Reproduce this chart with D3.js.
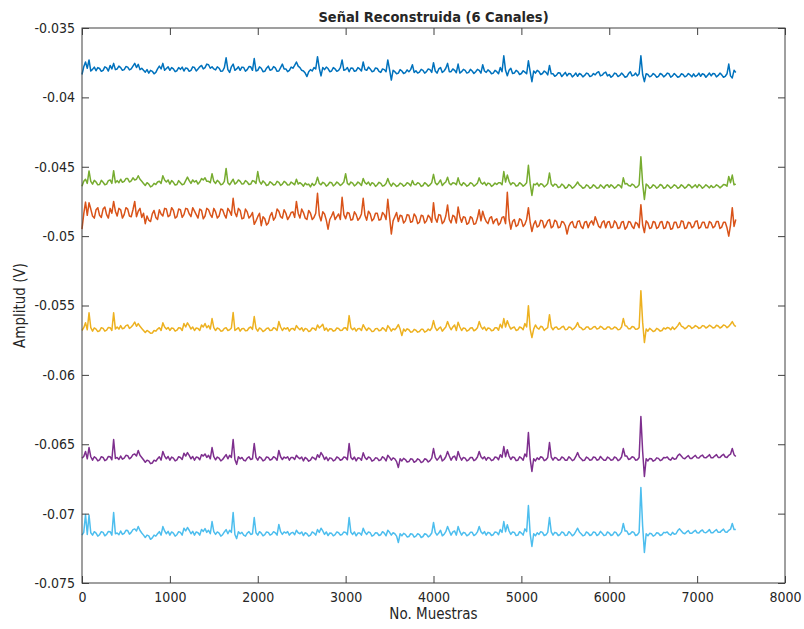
<!DOCTYPE html>
<html>
<head>
<meta charset="utf-8">
<script src="https://cdn.jsdelivr.net/npm/d3@7"></script>
<style>
  body { margin: 0; background: #fff; }
  svg text { font-family: "Liberation Sans Narrow", "DejaVu Sans Condensed", "Liberation Sans", sans-serif; fill: #262626; }
</style>
</head>
<body>
<svg id="chart"></svg>
<script>
// one stored value every STEP samples, amplitudes in mV
const STEP = 20;

const ch1 = [
  -38.35, -37.80, -37.45, -37.90, -37.30, -38.10, -37.98, -37.82, -38.08, -37.85,
  -37.92, -38.12, -38.05, -37.80, -37.88, -38.10, -37.70, -37.95, -37.55, -38.00,
  -37.95, -37.75, -37.85, -38.05, -38.00, -37.78, -37.82, -38.02, -37.95, -37.75,
  -37.55, -37.85, -37.62, -38.00, -37.90, -38.05, -38.18, -38.00, -38.25, -38.05,
  -38.12, -38.30, -38.20, -37.95, -37.75, -37.95, -37.55, -38.05, -37.92, -37.80,
  -38.05, -37.85, -37.95, -38.15, -38.08, -37.85, -37.98, -37.82, -38.10, -37.88,
  -37.92, -38.12, -38.05, -37.80, -37.85, -38.10, -37.95, -37.80, -37.70, -37.95,
  -37.85, -37.60, -37.65, -37.90, -37.80, -37.95, -38.02, -37.80, -37.90, -38.12,
  -38.10, -37.85, -37.15, -38.00, -38.20, -37.80, -37.60, -38.05, -37.95, -37.80,
  -38.05, -37.82, -37.85, -38.12, -38.00, -37.78, -37.80, -38.05, -37.20, -38.10,
  -38.05, -37.80, -37.90, -38.15, -38.12, -37.90, -37.75, -38.05, -38.00, -37.78,
  -37.88, -38.12, -38.10, -37.85, -37.60, -37.95, -37.95, -38.15, -38.05, -37.82,
  -37.90, -37.70, -37.45, -37.75, -37.85, -38.05, -38.10, -38.25, -38.50, -38.15,
  -38.00, -38.10, -37.85, -37.95, -37.07, -37.90, -38.45, -37.85, -38.00, -37.82,
  -37.92, -38.15, -38.10, -37.85, -37.95, -38.12, -38.05, -37.85, -37.30, -38.05,
  -38.00, -37.85, -38.15, -37.88, -37.90, -38.12, -38.08, -37.85, -37.95, -38.10,
  -37.45, -38.00, -38.05, -37.82, -37.95, -38.15, -38.10, -37.88, -37.92, -38.12,
  -38.20, -37.95, -38.00, -38.15, -37.30, -38.00, -38.75, -38.05, -38.15, -38.30,
  -38.25, -38.00, -38.10, -38.28, -38.22, -38.02, -38.15, -38.00, -37.65, -38.20,
  -38.08, -38.25, -38.18, -37.98, -38.05, -38.25, -38.15, -37.95, -38.00, -38.20,
  -37.50, -38.10, -38.25, -37.95, -37.85, -38.20, -38.10, -37.90, -37.55, -38.15,
  -38.15, -37.95, -38.05, -38.22, -37.60, -38.25, -38.15, -37.98, -38.05, -38.25,
  -38.20, -37.98, -38.10, -38.28, -38.15, -37.98, -38.05, -38.25, -37.65, -38.10,
  -38.20, -38.02, -38.12, -38.30, -38.25, -38.05, -38.15, -38.30, -37.85, -38.15,
  -37.00, -38.05, -38.44, -38.05, -37.90, -38.28, -38.25, -38.05, -38.15, -38.35,
  -38.28, -38.08, -38.18, -38.30, -37.36, -38.15, -38.87, -38.10, -38.25, -38.05,
  -38.15, -38.35, -38.28, -38.10, -38.20, -38.38, -37.70, -38.30, -38.30, -38.48,
  -38.40, -38.22, -38.25, -38.50, -38.35, -38.20, -38.45, -38.28, -38.30, -38.52,
  -38.40, -38.25, -38.48, -38.28, -38.35, -38.52, -38.42, -38.25, -38.30, -38.50,
  -38.45, -38.28, -38.38, -38.22, -38.15, -38.45, -38.40, -38.25, -38.18, -38.45,
  -38.35, -38.55, -38.45, -38.25, -38.30, -38.50, -38.42, -38.25, -38.38, -38.55,
  -38.50, -38.28, -38.15, -38.45, -38.40, -38.25, -38.45, -38.30, -37.00, -38.35,
  -38.87, -38.30, -38.35, -38.52, -38.45, -38.28, -38.38, -38.55, -38.48, -38.28,
  -38.35, -38.52, -38.42, -38.25, -38.30, -38.55, -38.45, -38.28, -38.40, -38.55,
  -38.50, -38.30, -38.35, -38.52, -38.45, -38.28, -38.38, -38.52, -38.30, -38.50,
  -38.42, -38.25, -38.48, -38.30, -38.35, -38.55, -38.40, -38.25, -38.45, -38.28,
  -38.30, -38.52, -38.42, -38.25, -38.38, -38.55, -38.48, -38.30, -37.60, -38.45,
  -38.60, -38.05, -38.20
];

const ch2 = [
  -49.50, -48.40, -47.55, -48.50, -47.60, -48.05, -48.55, -48.70, -48.10, -47.95,
  -48.50, -48.65, -48.05, -47.90, -48.45, -48.70, -48.00, -48.35, -47.50, -48.20,
  -48.55, -48.00, -48.10, -48.70, -48.45, -47.95, -48.05, -48.55, -48.60, -48.10,
  -47.50, -48.60, -48.20, -48.00, -48.65, -48.35, -49.10, -48.55, -48.85, -48.95,
  -48.40, -48.15, -48.65, -48.80, -48.10, -48.40, -48.55, -48.00, -48.05, -48.60,
  -48.50, -47.95, -48.15, -48.70, -48.60, -48.05, -48.10, -48.65, -48.45, -48.00,
  -48.05, -48.40, -48.60, -47.95, -48.20, -48.45, -48.70, -48.05, -48.15, -48.75,
  -48.55, -48.00, -48.10, -48.45, -48.65, -48.00, -48.25, -48.70, -48.55, -48.05,
  -48.10, -48.45, -48.70, -48.00, -48.20, -48.50, -47.27, -48.30, -48.60, -48.00,
  -48.15, -48.75, -48.70, -48.05, -48.25, -48.70, -48.55, -48.30, -49.15, -48.90,
  -48.60, -48.35, -49.25, -48.60, -48.75, -49.20, -49.05, -48.55, -48.30, -48.85,
  -48.65, -48.05, -48.20, -48.60, -48.70, -48.10, -48.35, -48.80, -48.60, -48.30,
  -48.25, -48.65, -47.50, -48.35, -48.70, -48.05, -48.30, -48.70, -48.80, -48.15,
  -48.35, -48.80, -48.65, -48.35, -46.91, -48.50, -48.90, -48.25, -48.40, -48.85,
  -49.50, -48.80, -48.55, -48.25, -48.80, -48.60, -48.40, -48.80, -47.20, -48.45,
  -48.75, -48.30, -48.35, -48.85, -48.80, -48.25, -48.45, -48.85, -48.70, -48.40,
  -47.27, -48.50, -48.85, -48.20, -48.40, -48.90, -48.75, -48.35, -48.35, -48.85,
  -48.80, -48.30, -48.45, -48.80, -47.35, -48.60, -49.85, -48.90, -48.60, -48.30,
  -48.95, -48.50, -48.55, -49.05, -48.90, -48.45, -48.50, -49.00, -48.95, -48.40,
  -48.60, -49.10, -49.00, -48.50, -48.55, -49.05, -48.90, -48.50, -48.65, -49.00,
  -47.59, -48.70, -49.00, -48.45, -48.50, -49.10, -48.95, -48.55, -47.75, -48.80,
  -49.05, -48.50, -48.60, -49.05, -47.90, -48.60, -49.00, -48.60, -48.65, -49.15,
  -49.05, -48.60, -48.70, -49.15, -49.10, -48.70, -48.10, -48.90, -48.20, -48.65,
  -48.95, -49.10, -48.70, -48.60, -49.10, -48.85, -48.75, -49.20, -49.05, -48.65,
  -48.60, -49.10, -46.84, -48.80, -49.50, -48.95, -48.80, -49.30, -49.20, -48.75,
  -48.85, -49.30, -49.15, -48.80, -47.95, -49.00, -49.67, -49.15, -48.90, -49.35,
  -49.25, -48.85, -48.90, -49.40, -49.20, -48.90, -48.80, -49.40, -49.30, -48.85,
  -48.95, -49.40, -49.35, -48.95, -49.00, -49.25, -49.85, -49.30, -49.05, -48.95,
  -49.35, -49.40, -48.95, -48.90, -49.30, -49.45, -49.00, -48.95, -49.40, -49.05,
  -48.90, -49.20, -48.60, -48.95, -49.30, -49.40, -49.00, -48.90, -49.40, -49.00,
  -48.95, -49.40, -49.35, -48.90, -49.05, -49.45, -49.40, -49.00, -48.95, -49.50,
  -49.35, -48.95, -49.00, -49.30, -49.45, -49.00, -49.10, -49.40, -47.73, -49.20,
  -49.74, -48.90, -49.05, -49.45, -49.40, -48.95, -49.00, -49.45, -49.35, -49.00,
  -48.95, -49.45, -49.40, -48.95, -49.05, -49.50, -49.45, -49.00, -49.00, -49.40,
  -49.35, -48.90, -48.95, -49.45, -49.40, -49.00, -49.05, -49.40, -49.30, -48.95,
  -48.90, -49.45, -49.35, -49.00, -49.00, -49.40, -49.40, -48.95, -49.05, -49.40,
  -49.30, -48.95, -48.95, -49.45, -49.35, -49.00, -49.00, -49.40, -50.00, -49.20,
  -47.95, -49.30, -48.80
];

const ch3 = [
  -56.80, -56.60, -56.24, -56.75, -55.52, -56.60, -56.85, -56.62, -56.70, -56.88,
  -56.82, -56.60, -56.65, -56.85, -56.78, -56.58, -56.60, -56.80, -55.52, -56.70,
  -56.55, -56.70, -56.45, -56.68, -56.62, -56.45, -56.40, -56.65, -56.55, -56.40,
  -56.20, -56.50, -56.30, -56.50, -56.65, -56.80, -56.95, -56.80, -56.88, -57.00,
  -56.98, -56.80, -56.85, -56.70, -56.60, -56.80, -56.25, -56.55, -56.70, -56.58,
  -56.80, -56.62, -56.65, -56.85, -56.78, -56.60, -56.62, -56.80, -56.30, -56.55,
  -56.25, -56.45, -56.70, -56.55, -56.80, -56.62, -56.65, -56.80, -56.40, -56.55,
  -56.30, -56.60, -56.45, -56.70, -55.94, -56.60, -56.80, -56.62, -56.68, -56.85,
  -56.82, -56.65, -56.60, -56.80, -56.75, -56.62, -55.51, -56.80, -56.70, -56.60,
  -56.85, -56.68, -56.65, -56.82, -56.80, -56.62, -56.55, -56.72, -55.80, -56.65,
  -56.85, -56.62, -56.70, -56.88, -56.80, -56.65, -56.62, -56.80, -56.78, -56.60,
  -56.65, -56.80, -56.16, -56.55, -56.80, -56.62, -56.70, -56.60, -56.85, -56.68,
  -56.65, -56.78, -56.45, -56.62, -56.75, -56.60, -56.85, -56.65, -56.70, -56.88,
  -56.82, -56.62, -56.65, -56.78, -56.40, -56.62, -56.50, -56.35, -56.78, -56.62,
  -56.85, -56.68, -56.70, -56.85, -56.80, -56.62, -56.65, -56.80, -56.78, -56.62,
  -56.60, -56.78, -55.73, -56.60, -56.75, -56.62, -56.85, -56.68, -56.65, -56.80,
  -56.38, -56.62, -56.80, -56.62, -56.70, -56.88, -56.85, -56.68, -56.65, -56.82,
  -56.78, -56.60, -56.70, -56.85, -56.45, -56.62, -56.85, -56.68, -56.75, -56.60,
  -56.38, -56.70, -57.17, -56.70, -56.85, -56.68, -56.75, -56.92, -56.90, -56.72,
  -56.78, -56.92, -56.88, -56.72, -56.72, -56.92, -56.85, -56.70, -56.80, -56.62,
  -56.09, -56.60, -56.80, -56.65, -56.55, -56.85, -56.70, -56.55, -56.16, -56.50,
  -56.75, -56.55, -56.40, -56.80, -56.20, -56.55, -56.80, -56.62, -56.65, -56.85,
  -56.78, -56.62, -56.60, -56.82, -56.75, -56.60, -56.16, -56.52, -56.70, -56.55,
  -56.80, -56.62, -56.65, -56.82, -56.78, -56.60, -56.60, -56.78, -56.35, -56.62,
  -55.94, -56.55, -56.10, -56.45, -56.70, -56.60, -56.55, -56.80, -56.75, -56.55,
  -56.60, -56.75, -56.30, -56.55, -55.01, -56.70, -57.31, -56.70, -56.40, -56.62,
  -56.70, -56.50, -56.55, -56.80, -56.68, -56.60, -55.66, -56.55, -56.75, -56.58,
  -56.55, -56.72, -56.68, -56.55, -56.50, -56.75, -56.72, -56.55, -56.58, -56.75,
  -56.65, -56.50, -56.23, -56.55, -56.60, -56.75, -56.70, -56.55, -56.55, -56.72,
  -56.68, -56.55, -56.52, -56.70, -56.65, -56.50, -56.58, -56.72, -56.70, -56.55,
  -56.55, -56.70, -56.68, -56.55, -56.60, -56.75, -56.72, -56.55, -55.94, -56.45,
  -56.50, -56.68, -56.68, -56.52, -56.55, -56.72, -56.70, -56.60, -53.93, -56.20,
  -57.67, -56.70, -56.85, -56.65, -56.75, -56.88, -56.82, -56.65, -56.72, -56.85,
  -56.80, -56.62, -56.70, -56.58, -56.62, -56.75, -56.55, -56.72, -56.60, -56.45,
  -56.23, -56.48, -56.55, -56.68, -56.60, -56.45, -56.50, -56.65, -56.58, -56.45,
  -56.52, -56.65, -56.60, -56.45, -56.48, -56.62, -56.55, -56.42, -56.50, -56.62,
  -56.58, -56.42, -56.48, -56.62, -56.55, -56.40, -56.45, -56.60, -56.50, -56.35,
  -56.16, -56.40, -56.52
];

const ch4 = [
  -66.00, -65.88, -65.52, -66.05, -65.24, -65.90, -66.15, -65.90, -66.00, -66.20,
  -66.12, -65.90, -65.95, -66.18, -66.10, -65.88, -65.90, -66.12, -64.66, -66.02,
  -65.95, -66.10, -65.85, -66.08, -66.00, -65.80, -65.82, -66.05, -65.95, -65.75,
  -65.70, -65.85, -65.45, -65.80, -65.95, -66.12, -66.30, -66.15, -66.20, -66.40,
  -66.35, -66.15, -66.22, -66.05, -65.90, -66.15, -65.52, -65.85, -66.05, -65.88,
  -66.15, -65.92, -66.00, -66.20, -66.12, -65.90, -65.95, -66.10, -65.65, -65.85,
  -65.60, -65.80, -66.05, -65.88, -66.15, -65.92, -65.95, -66.12, -65.75, -65.85,
  -65.70, -65.95, -65.80, -66.05, -65.24, -65.90, -66.12, -65.92, -66.00, -66.20,
  -66.10, -65.92, -65.75, -66.05, -65.80, -65.95, -64.66, -66.10, -66.45, -65.90,
  -66.05, -65.95, -66.15, -66.20, -66.00, -65.90, -66.10, -66.05, -64.95, -65.95,
  -66.15, -65.90, -66.00, -66.20, -66.12, -65.92, -65.95, -66.15, -66.08, -65.90,
  -65.98, -66.15, -65.45, -65.90, -66.10, -65.92, -66.00, -65.90, -66.15, -65.95,
  -65.95, -66.10, -65.80, -65.95, -66.05, -65.92, -66.20, -65.95, -66.05, -66.22,
  -66.15, -65.92, -66.00, -66.12, -65.75, -65.95, -65.60, -65.80, -66.10, -65.92,
  -66.18, -65.98, -66.02, -66.20, -66.12, -65.92, -65.98, -66.15, -66.10, -65.92,
  -65.95, -66.12, -64.95, -65.95, -66.10, -65.92, -66.20, -65.98, -66.00, -66.15,
  -65.62, -65.95, -66.10, -65.92, -65.98, -66.22, -66.15, -65.98, -66.00, -66.18,
  -66.12, -65.90, -66.00, -66.20, -65.80, -65.95, -66.15, -65.98, -66.05, -66.25,
  -66.67, -66.05, -66.20, -66.02, -66.10, -66.28, -66.25, -66.05, -66.08, -66.30,
  -66.22, -66.05, -66.12, -66.32, -66.25, -66.05, -66.10, -66.28, -66.18, -66.00,
  -65.31, -65.95, -66.15, -66.00, -65.80, -66.20, -66.10, -65.90, -65.52, -65.85,
  -66.15, -65.92, -65.85, -66.15, -65.52, -65.90, -66.15, -65.95, -66.00, -66.20,
  -66.12, -65.95, -65.95, -66.18, -66.10, -65.92, -65.52, -65.90, -66.05, -65.90,
  -66.15, -65.95, -66.00, -66.18, -66.12, -65.92, -65.95, -66.12, -65.75, -65.95,
  -65.17, -65.90, -65.40, -65.85, -66.10, -65.92, -65.95, -66.18, -66.15, -65.90,
  -66.00, -66.15, -65.70, -65.90, -64.16, -66.05, -66.96, -66.05, -66.20, -65.98,
  -66.10, -65.90, -65.95, -66.18, -66.12, -65.95, -64.88, -65.92, -66.15, -65.95,
  -66.00, -66.15, -66.12, -65.92, -65.98, -66.15, -66.15, -65.90, -66.02, -66.18,
  -66.10, -65.88, -65.60, -65.92, -66.05, -66.18, -66.15, -65.92, -66.00, -66.15,
  -66.12, -65.92, -65.95, -66.15, -66.10, -65.88, -66.02, -66.15, -66.15, -65.92,
  -66.00, -66.15, -66.12, -65.92, -65.98, -66.18, -66.10, -65.92, -65.31, -65.85,
  -65.85, -66.10, -66.05, -65.90, -65.95, -66.15, -66.12, -65.95, -63.00, -65.50,
  -67.32, -66.05, -66.20, -66.02, -66.05, -66.22, -66.15, -65.98, -66.02, -66.18,
  -66.12, -65.95, -65.98, -65.92, -66.08, -66.15, -65.95, -66.08, -66.05, -65.82,
  -65.70, -65.85, -66.00, -66.05, -65.92, -65.82, -66.02, -66.02, -65.90, -65.80,
  -65.98, -66.00, -65.85, -65.78, -65.95, -65.98, -65.88, -65.75, -65.98, -65.98,
  -65.85, -65.75, -65.95, -65.95, -65.82, -65.72, -65.92, -65.95, -65.80, -65.72,
  -65.31, -65.75, -65.88
];

const ch5 = [
  -46.40, -46.05, -45.90, -46.20, -45.30, -46.05, -46.25, -45.98, -46.10, -46.30,
  -46.28, -45.98, -46.12, -46.30, -46.25, -46.00, -45.95, -46.20, -45.28, -46.15,
  -46.00, -46.15, -45.90, -46.12, -46.05, -45.85, -45.85, -46.10, -46.02, -45.80,
  -45.95, -45.90, -45.65, -45.90, -46.05, -46.20, -46.35, -46.15, -46.25, -46.45,
  -46.38, -46.20, -46.28, -46.10, -46.05, -46.20, -45.65, -45.95, -46.10, -45.95,
  -46.25, -46.00, -46.12, -46.32, -46.28, -46.00, -46.15, -46.30, -46.25, -46.00,
  -45.75, -46.00, -46.20, -45.95, -46.10, -46.00, -46.25, -46.10, -45.85, -45.95,
  -45.80, -46.05, -46.05, -46.15, -45.50, -46.05, -46.20, -45.98, -46.10, -46.30,
  -46.25, -46.05, -45.12, -46.15, -46.30, -46.10, -45.90, -46.25, -46.15, -45.95,
  -46.05, -46.25, -46.22, -46.00, -46.10, -46.28, -46.25, -46.00, -46.05, -46.20,
  -45.35, -46.05, -46.25, -46.02, -46.15, -46.35, -46.30, -46.08, -46.18, -46.32,
  -46.28, -46.05, -46.12, -46.35, -46.25, -46.05, -46.15, -46.32, -46.30, -46.10,
  -46.20, -46.30, -45.90, -46.25, -46.15, -46.25, -46.40, -46.18, -46.30, -46.25,
  -46.45, -46.20, -46.35, -46.20, -45.75, -46.20, -46.30, -46.12, -46.20, -46.40,
  -46.30, -46.12, -46.15, -46.38, -46.28, -46.10, -46.20, -46.35, -46.25, -46.10,
  -45.50, -46.20, -46.30, -46.10, -46.18, -46.38, -46.28, -46.10, -46.20, -46.35,
  -45.85, -46.15, -46.25, -46.10, -46.35, -46.15, -46.22, -46.42, -46.30, -46.12,
  -46.20, -46.40, -46.35, -46.20, -45.85, -46.20, -46.40, -46.18, -46.28, -46.42,
  -46.35, -46.18, -46.25, -46.40, -46.32, -46.15, -46.22, -46.38, -46.00, -46.28,
  -46.30, -46.15, -46.22, -46.42, -46.35, -46.15, -46.25, -46.40, -46.30, -46.15,
  -45.55, -46.15, -46.30, -46.15, -45.95, -46.35, -46.20, -46.10, -45.75, -46.20,
  -46.30, -46.15, -46.18, -46.30, -45.80, -46.22, -46.35, -46.15, -46.25, -46.40,
  -46.32, -46.15, -46.22, -46.40, -46.30, -46.18, -45.80, -46.15, -46.25, -46.12,
  -46.35, -46.18, -46.22, -46.42, -46.32, -46.18, -46.28, -46.15, -46.15, -46.30,
  -45.35, -46.10, -45.60, -46.05, -46.30, -46.15, -46.20, -46.40, -46.35, -46.15,
  -46.25, -46.40, -46.30, -46.15, -44.90, -46.20, -47.07, -46.25, -46.30, -46.18,
  -46.40, -46.22, -46.28, -46.45, -46.35, -46.20, -45.45, -46.25, -46.40, -46.25,
  -46.30, -46.50, -46.45, -46.25, -46.35, -46.55, -46.48, -46.28, -46.38, -46.55,
  -46.45, -46.30, -46.10, -46.30, -46.40, -46.55, -46.50, -46.30, -46.38, -46.55,
  -46.48, -46.30, -46.40, -46.55, -46.52, -46.30, -46.42, -46.55, -46.35, -46.30,
  -46.48, -46.30, -46.40, -46.55, -46.45, -46.30, -46.35, -46.52, -45.80, -46.25,
  -46.20, -46.35, -46.40, -46.25, -46.32, -46.50, -46.45, -46.30, -44.28, -46.20,
  -47.36, -46.25, -46.35, -46.55, -46.48, -46.30, -46.38, -46.55, -46.45, -46.28,
  -46.35, -46.55, -46.50, -46.30, -46.40, -46.55, -46.45, -46.30, -46.38, -46.55,
  -46.48, -46.30, -46.40, -46.55, -46.45, -46.28, -46.35, -46.52, -46.42, -46.30,
  -46.50, -46.28, -46.38, -46.55, -46.45, -46.30, -46.40, -46.52, -46.35, -46.50,
  -46.45, -46.30, -46.38, -46.52, -46.42, -46.28, -46.30, -46.40, -45.70, -46.15,
  -45.60, -46.30, -46.25
];

const ch6 = [
  -71.55, -71.35, -70.06, -71.50, -70.10, -71.38, -71.55, -71.30, -71.40, -71.62,
  -71.52, -71.30, -71.35, -71.60, -71.50, -71.28, -71.30, -71.55, -69.92, -71.45,
  -71.40, -71.52, -71.25, -71.50, -71.42, -71.20, -71.22, -71.48, -71.35, -71.15,
  -71.10, -71.25, -70.93, -71.22, -71.40, -71.55, -71.72, -71.55, -71.60, -71.85,
  -71.75, -71.55, -71.62, -71.45, -71.30, -71.55, -70.93, -71.25, -71.45, -71.28,
  -71.55, -71.32, -71.40, -71.62, -71.52, -71.30, -71.35, -71.55, -71.05, -71.25,
  -71.00, -71.20, -71.45, -71.28, -71.55, -71.32, -71.38, -71.55, -71.15, -71.28,
  -71.08, -71.35, -71.20, -71.45, -70.57, -71.30, -71.50, -71.32, -71.40, -71.62,
  -71.52, -71.32, -71.15, -71.45, -71.20, -71.35, -69.92, -71.50, -71.80, -71.30,
  -71.45, -71.35, -71.55, -71.62, -71.40, -71.30, -71.50, -71.45, -70.28, -71.38,
  -71.55, -71.30, -71.40, -71.60, -71.52, -71.32, -71.35, -71.55, -71.48, -71.30,
  -71.38, -71.55, -70.78, -71.30, -71.50, -71.32, -71.40, -71.30, -71.55, -71.40,
  -71.35, -71.52, -71.20, -71.38, -71.45, -71.32, -71.58, -71.38, -71.45, -71.62,
  -71.55, -71.32, -71.40, -71.55, -71.15, -71.35, -71.05, -71.25, -71.50, -71.32,
  -71.58, -71.40, -71.42, -71.60, -71.52, -71.32, -71.38, -71.55, -71.50, -71.32,
  -71.35, -71.52, -70.28, -71.35, -71.50, -71.32, -71.60, -71.40, -71.40, -71.55,
  -71.05, -71.35, -71.50, -71.32, -71.38, -71.62, -71.55, -71.38, -71.40, -71.58,
  -71.52, -71.30, -71.40, -71.60, -71.20, -71.35, -71.55, -71.38, -71.45, -71.62,
  -72.08, -71.45, -71.60, -71.42, -71.50, -71.68, -71.65, -71.45, -71.48, -71.70,
  -71.62, -71.45, -71.52, -71.72, -71.65, -71.45, -71.50, -71.68, -71.58, -71.40,
  -70.64, -71.35, -71.55, -71.40, -71.20, -71.60, -71.50, -71.30, -70.93, -71.25,
  -71.55, -71.32, -71.25, -71.55, -70.93, -71.30, -71.55, -71.35, -71.40, -71.60,
  -71.52, -71.35, -71.35, -71.58, -71.50, -71.32, -70.93, -71.30, -71.45, -71.30,
  -71.55, -71.35, -71.40, -71.58, -71.52, -71.32, -71.35, -71.52, -71.15, -71.35,
  -70.57, -71.30, -70.80, -71.25, -71.50, -71.32, -71.35, -71.58, -71.55, -71.30,
  -71.40, -71.55, -71.10, -71.30, -69.42, -71.45, -72.37, -71.45, -71.60, -71.38,
  -71.50, -71.30, -71.35, -71.58, -71.52, -71.35, -70.28, -71.32, -71.55, -71.35,
  -71.40, -71.58, -71.52, -71.32, -71.38, -71.58, -71.55, -71.30, -71.42, -71.60,
  -71.50, -71.28, -71.05, -71.32, -71.45, -71.60, -71.55, -71.32, -71.40, -71.58,
  -71.52, -71.32, -71.35, -71.58, -71.50, -71.28, -71.42, -71.58, -71.55, -71.32,
  -71.40, -71.58, -71.52, -71.32, -71.38, -71.60, -71.50, -71.32, -70.71, -71.25,
  -71.25, -71.50, -71.45, -71.30, -71.35, -71.58, -71.52, -71.35, -68.12, -70.90,
  -72.80, -71.45, -71.60, -71.42, -71.45, -71.62, -71.55, -71.38, -71.42, -71.58,
  -71.52, -71.35, -71.38, -71.32, -71.48, -71.55, -71.35, -71.48, -71.45, -71.22,
  -71.10, -71.25, -71.40, -71.45, -71.32, -71.22, -71.42, -71.42, -71.30, -71.20,
  -71.38, -71.40, -71.25, -71.18, -71.35, -71.38, -71.28, -71.15, -71.38, -71.38,
  -71.25, -71.15, -71.35, -71.35, -71.22, -71.12, -71.32, -71.35, -71.20, -71.12,
  -70.71, -71.15, -71.15
];

const channelColors = ['#0072BD', '#D95319', '#EDB120', '#7E2F8E', '#77AC30', '#4DBEEE'];
const xTicks = [0, 1000, 2000, 3000, 4000, 5000, 6000, 7000, 8000];
const yTicks = [-0.075, -0.07, -0.065, -0.06, -0.055, -0.05, -0.045, -0.04, -0.035];

const config = {
  width: 804,
  height: 629,
  margin: { top: 28, right: 19, bottom: 46, left: 82 }
};

const svg = d3.select('#chart')
  .attr('width', config.width)
  .attr('height', config.height);

const innerW = config.width - config.margin.left - config.margin.right;
const innerH = config.height - config.margin.top - config.margin.bottom;

const g = svg.append('g')
  .attr('transform', `translate(${config.margin.left}, ${config.margin.top})`);

const x = d3.scaleLinear().domain([0, 8000]).range([0, innerW]);
const y = d3.scaleLinear().domain([-0.075, -0.035]).range([innerH, 0]);

const fmt = d => String(+d.toFixed(3));

// signals
const line = d3.line()
  .x((d, i) => x(i * STEP))
  .y(d => y(d / 1000));

[ch1, ch2, ch3, ch4, ch5, ch6].forEach((vals, k) => {
  g.append('path')
    .datum(vals)
    .attr('fill', 'none')
    .attr('stroke', channelColors[k])
    .attr('stroke-width', 1.5)
    .attr('stroke-linejoin', 'round')
    .attr('d', line);
});

// axes, ticks pointing inward on all four sides
const styleAxis = sel => {
  sel.select('.domain').remove();
  sel.selectAll('.tick line').attr('stroke', '#404040');
  sel.selectAll('text').attr('font-size', 14).attr('font-family', null).attr('fill', '#262626');
};

g.append('g')
  .attr('transform', `translate(0, ${innerH})`)
  .call(d3.axisBottom(x).tickValues(xTicks).tickSize(-7).tickPadding(9).tickFormat(d => d))
  .call(styleAxis);

g.append('g')
  .call(d3.axisTop(x).tickValues(xTicks).tickSize(-7).tickFormat(''))
  .call(styleAxis);

g.append('g')
  .call(d3.axisLeft(y).tickValues(yTicks).tickSize(-7).tickPadding(7).tickFormat(fmt))
  .call(styleAxis);

g.append('g')
  .attr('transform', `translate(${innerW}, 0)`)
  .call(d3.axisRight(y).tickValues(yTicks).tickSize(-7).tickFormat(''))
  .call(styleAxis);

g.append('rect')
  .attr('width', innerW)
  .attr('height', innerH)
  .attr('fill', 'none')
  .attr('stroke', '#404040')
  .attr('stroke-width', 1);

// labels
svg.append('text')
  .attr('x', config.margin.left + innerW / 2)
  .attr('y', 22)
  .attr('text-anchor', 'middle')
  .attr('font-size', 14.5)
  .attr('font-weight', 'bold')
  .text('Señal Reconstruida (6 Canales)');

svg.append('text')
  .attr('x', config.margin.left + innerW / 2)
  .attr('y', 619)
  .attr('text-anchor', 'middle')
  .attr('font-size', 15)
  .text('No. Muestras');

svg.append('text')
  .attr('transform', `translate(25, ${config.margin.top + innerH / 2}) rotate(-90)`)
  .attr('text-anchor', 'middle')
  .attr('font-size', 15)
  .text('Amplitud (V)');
</script>
</body>
</html>
